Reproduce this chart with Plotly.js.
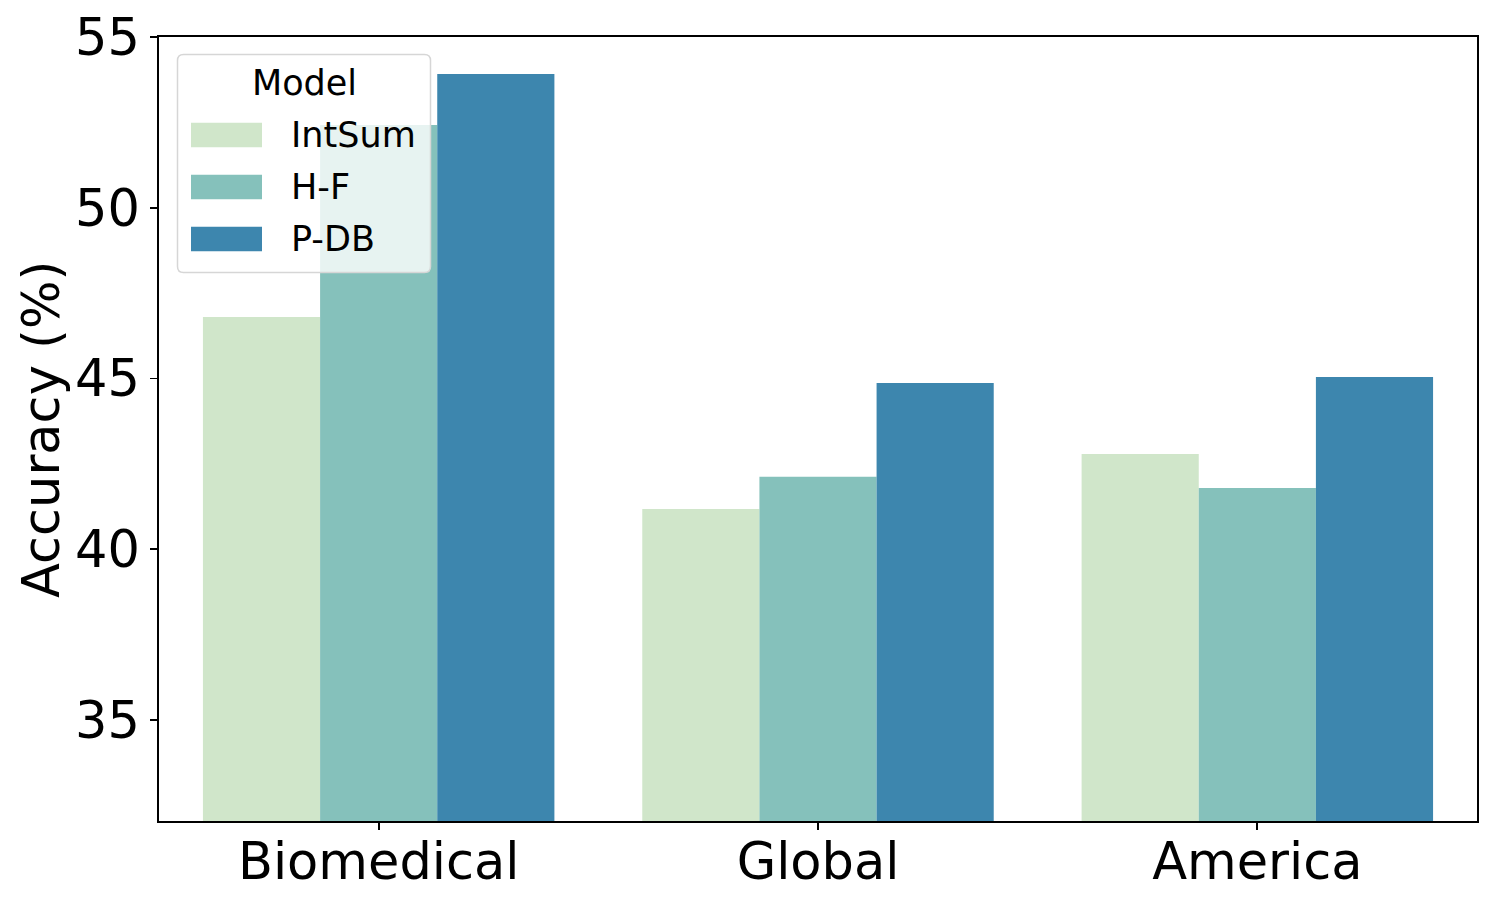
<!DOCTYPE html>
<html>
<head>
<meta charset="utf-8">
<script src="https://cdn.plot.ly/plotly-3.0.1.min.js"></script>
<style>html,body{margin:0;padding:0;background:#fff;}#chart{width:1494px;height:906px;}</style>
</head>
<body>
<div id="chart"></div>
<script>
const categories = ["Biomedical", "Global", "America"];
const seriesNames = ["IntSum", "H-F", "P-DB"];
const intSum = [46.8, 41.18, 42.79];
const hf = [52.42, 42.12, 41.79];
const pdb = [53.92, 44.87, 45.04];
const yTicks = [35, 40, 45, 50, 55];
const colors = ["#d0e6ca", "#85c1bb", "#3d86ae"];

const W = 1494, H = 906;
const M = {l: 159, r: 17, t: 37, b: 85};
const PW = W - M.l - M.r, PH = H - M.t - M.b;
const px = x => (x - M.l) / PW;
const py = y => (H - M.b - y) / PH;

const values = [intSum, hf, pdb];
const traces = seriesNames.map((n, i) => ({
  type: "bar", name: n, x: categories, y: values[i],
  marker: {color: colors[i], line: {width: 0}},
  showlegend: false, hoverinfo: "x+y+name"
}));

// Manual legend (rounded box, wide swatches)
const lx0 = 177.5, lx1 = 430.5, ly0 = 54.5, ly1 = 272.5, rad = 6;
const rx = rad / PW, ry = rad / PH;
const X0 = px(lx0), X1 = px(lx1), Y0 = py(ly1), Y1 = py(ly0);
const boxPath = `M ${X0 + rx} ${Y0} L ${X1 - rx} ${Y0} Q ${X1} ${Y0} ${X1} ${Y0 + ry} L ${X1} ${Y1 - ry} Q ${X1} ${Y1} ${X1 - rx} ${Y1} L ${X0 + rx} ${Y1} Q ${X0} ${Y1} ${X0} ${Y1 - ry} L ${X0} ${Y0 + ry} Q ${X0} ${Y0} ${X0 + rx} ${Y0} Z`;
const shapes = [{
  type: "path", path: boxPath, xref: "paper", yref: "paper", layer: "above",
  fillcolor: "rgba(255,255,255,0.8)", line: {color: "#d6d6d6", width: 1.5}
}];
const rowCenters = [135, 187, 239];
const annotations = [{
  text: "Model", xref: "paper", yref: "paper", x: px(304), y: py(83),
  xanchor: "center", yanchor: "middle", showarrow: false,
  font: {family: "DejaVu Sans", size: 35, color: "#000"}
}, {
  text: "Accuracy (%)", xref: "paper", yref: "paper", x: px(42), y: py(430),
  xanchor: "center", yanchor: "middle", showarrow: false, textangle: -90,
  font: {family: "DejaVu Sans", size: 51, color: "#000"}
}];
seriesNames.forEach((n, i) => {
  const c = rowCenters[i];
  shapes.push({
    type: "rect", xref: "paper", yref: "paper", layer: "above",
    x0: px(191), x1: px(262), y0: py(c + 12.3), y1: py(c - 12.3),
    fillcolor: colors[i], line: {width: 0}
  });
  annotations.push({
    text: n, xref: "paper", yref: "paper", x: px(289), y: py(c),
    xanchor: "left", yanchor: "middle", showarrow: false,
    font: {family: "DejaVu Sans", size: 35, color: "#000"}
  });
});

const layout = {
  width: W, height: H,
  margin: {l: M.l, r: M.r, t: M.t, b: M.b, pad: 0},
  paper_bgcolor: "#fff", plot_bgcolor: "#fff",
  font: {family: "DejaVu Sans", color: "#000"},
  barmode: "group", bargap: 0.2, bargroupgap: 0,
  showlegend: false,
  xaxis: {
    type: "category", range: [-0.5, 2.5], showgrid: false, zeroline: false,
    showline: true, linecolor: "#000", linewidth: 1.8, mirror: true,
    ticks: "outside", ticklen: 7, tickwidth: 1.8, tickcolor: "#000",
    ticklabelstandoff: -12,
    tickfont: {family: "DejaVu Sans", size: 51, color: "#000"}
  },
  yaxis: {
    range: [32.04, 55], showgrid: false, zeroline: false,
    showline: true, linecolor: "#000", linewidth: 1.8, mirror: true,
    ticks: "outside", ticklen: 7, tickwidth: 1.8, tickcolor: "#000",
    tickvals: yTicks, ticktext: yTicks.map(String),
    tickfont: {family: "DejaVu Sans", size: 51, color: "#000"}
  },
  shapes: shapes,
  annotations: annotations
};

Plotly.newPlot("chart", traces, layout, {displayModeBar: false, staticPlot: true});
</script>
</body>
</html>
